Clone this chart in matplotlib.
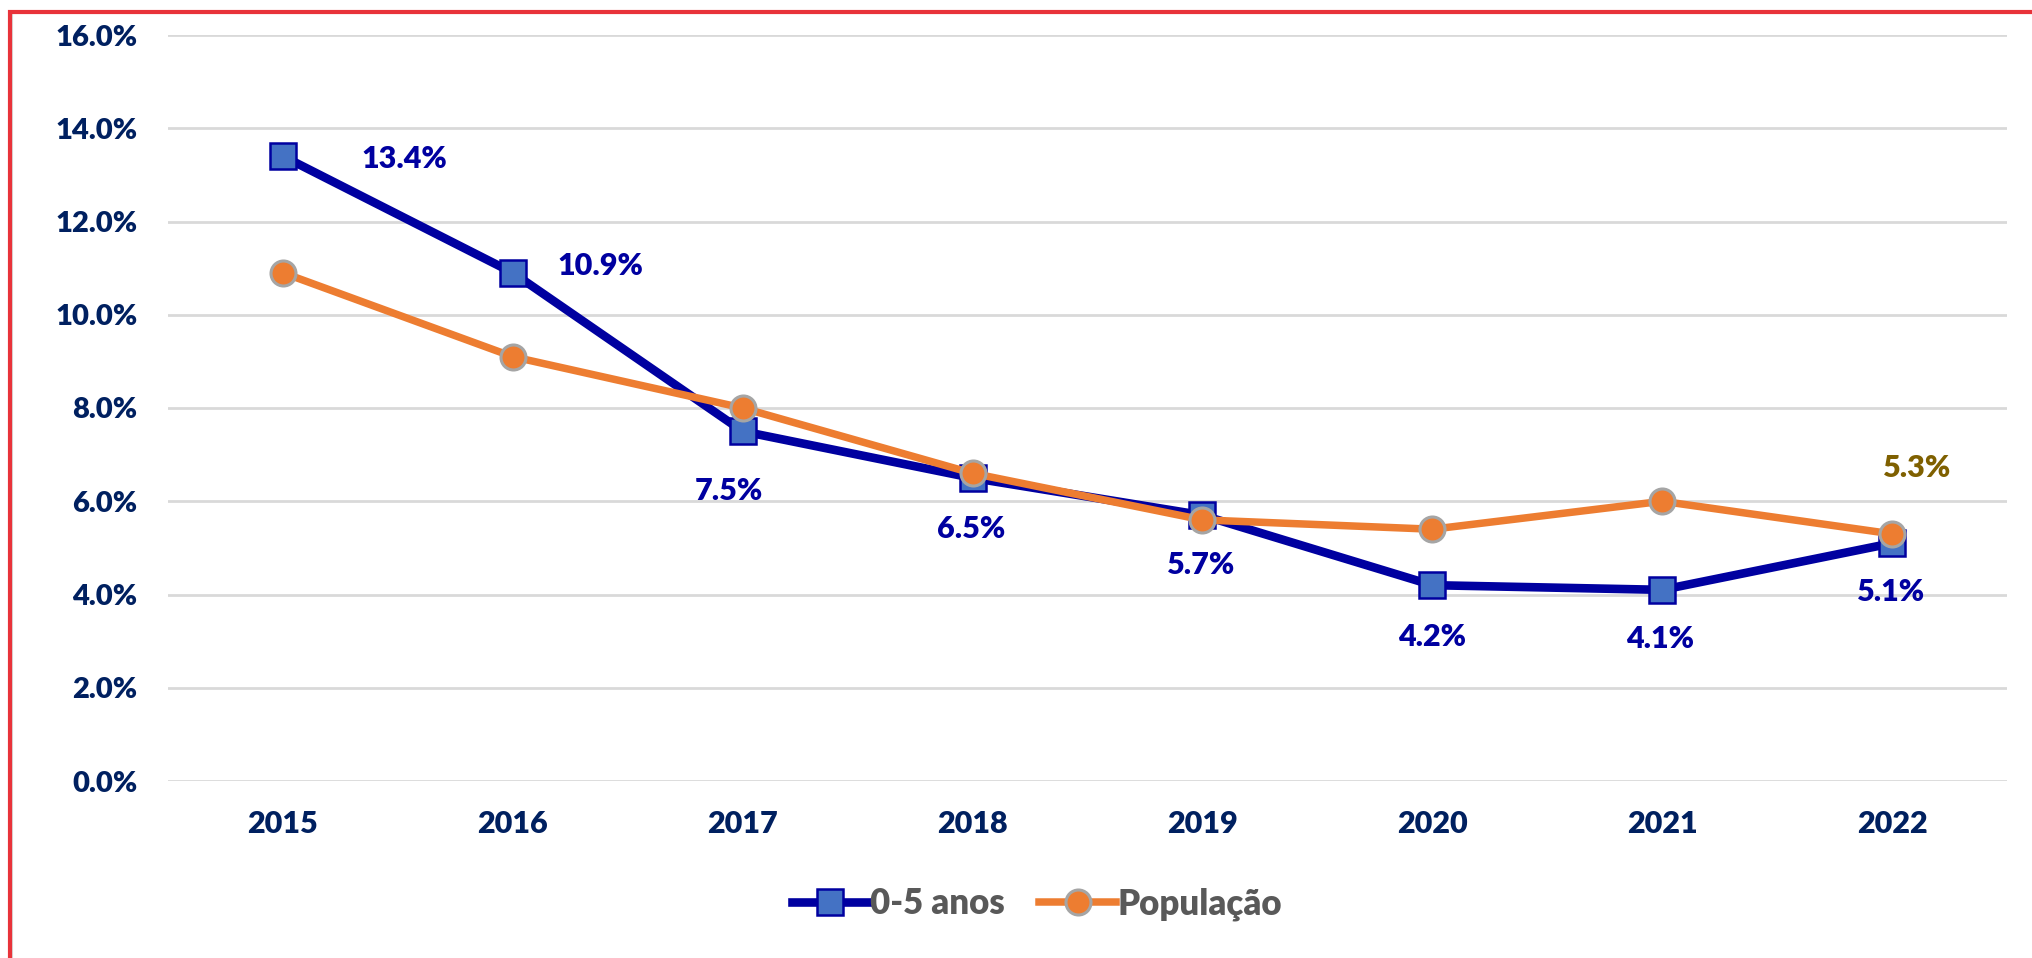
import matplotlib
matplotlib.use("Agg")
import matplotlib.pyplot as plt
from matplotlib.patches import Rectangle

years = ["2015", "2016", "2017", "2018", "2019", "2020", "2021", "2022"]
kids = [13.4, 10.9, 7.5, 6.5, 5.7, 4.2, 4.1, 5.1]
pop = [10.9, 9.1, 8.0, 6.6, 5.6, 5.4, 6.0, 5.3]
yticks = [0, 2, 4, 6, 8, 10, 12, 14, 16]
kids_label_offsets = [(121, -3), (88, 7), (-14, -60), (-1, -51), (-1, -50), (0, -52), (-2, -49), (-1, -49)]

plt.rcParams['font.family'] = ['Lato', 'DejaVu Sans']
plt.rcParams['font.weight'] = 'heavy'

W, H = 2033, 958
fig = plt.figure(figsize=(W / 100, H / 100), dpi=100)
ax = fig.add_axes([168 / W, 177 / H, (2007 - 168) / W, (781 - 35) / H])

x = list(range(len(years)))
ax.plot(x, kids, color='#0000A0', lw=6.2, marker='s', ms=19, mfc='#4472C4', mec='#0000A0', mew=1.8,
        zorder=3, label='0-5 anos')
ax.plot(x, pop, color='#ED7D31', lw=5.4, marker='o', ms=18, mfc='#ED7D31', mec='#A5A5A5', mew=2.2,
        zorder=4, label='População')

for i, v in enumerate(kids):
    dx, dy = kids_label_offsets[i]
    ax.annotate(f"{v:.1f}%", (i, v), xytext=(dx, dy), textcoords='offset pixels',
                ha='center', va='center', color='#0000A0', fontsize=22, fontweight='heavy', zorder=5)
ax.annotate(f"{pop[-1]:.1f}%", (len(years) - 1, pop[-1]), xytext=(25, 66), textcoords='offset pixels',
            ha='center', va='center', color='#7F6000', fontsize=22, fontweight='heavy', zorder=5)

ax.set_xlim(-0.5, len(years) - 0.5)
ax.set_ylim(0, 16)
ax.set_yticks(yticks)
ax.set_yticklabels([f"{t:.1f}%" for t in yticks])
ax.set_xticks(x)
ax.set_xticklabels(years)
ax.tick_params(axis='both', length=0, colors='#002060')
ax.tick_params(axis='y', pad=22, labelsize=21)
ax.tick_params(axis='x', pad=21, labelsize=22)
for lab in ax.get_xticklabels() + ax.get_yticklabels():
    lab.set_fontweight('heavy')
ax.grid(axis='y', color='#D9D9D9', lw=2)
ax.set_axisbelow(True)
for s in ax.spines.values():
    s.set_visible(False)

leg = fig.legend(loc='center', bbox_to_anchor=(1037 / W, 1 - 904 / H), ncol=2, frameon=False,
                 fontsize=25, handlelength=2.2, columnspacing=1.0, handletextpad=0.05)
for t in leg.get_texts():
    t.set_color('#595959')
    t.set_fontweight('heavy')

# outer frame
fig.add_artist(Rectangle((12 / W, -0.1), 1.2, (H - 13) / H + 0.1, transform=fig.transFigure,
                         fill=False, edgecolor='#D9D9D9', lw=1.5, zorder=0))
fig.add_artist(Rectangle((10 / W, -0.1), 1.2, (H - 12) / H + 0.1, transform=fig.transFigure,
                         fill=False, edgecolor='#E8333A', lw=3, zorder=1))

fig.savefig("out.png", dpi=100)
